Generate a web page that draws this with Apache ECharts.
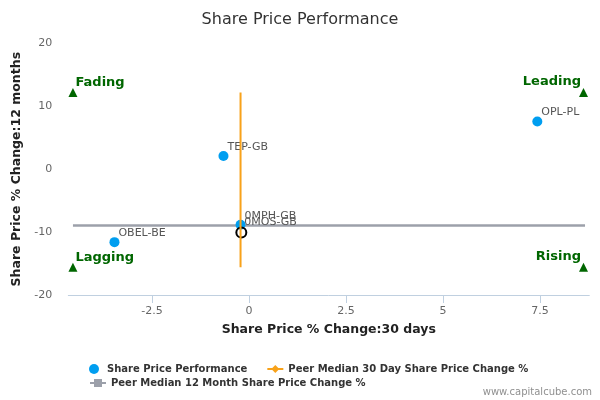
<!DOCTYPE html>
<html>
<head>
<meta charset="utf-8">
<script src="https://cdn.jsdelivr.net/npm/echarts@6/dist/echarts.min.js"></script>
<style>html,body{margin:0;padding:0;background:#fff}#c{width:600px;height:400px}</style>
</head>
<body>
<div id="c"></div>
<script>
// Data
const companies = ['OPL-PL', 'TEP-GB', 'OBEL-BE', '0MPH-GB', '0MOS-GB'];
const change30d = [7.43, -0.66, -3.47, -0.22, -0.20];
const change12m = [7.57, 2.1, -11.6, -8.85, -10.05];
const focusCompany = '0MOS-GB';
const peerMedian30d = -0.22;
const peerMedian12m = -8.94;
const medianLineX = [-4.54, 8.66];
const medianLineY = [12.2, -15.6];
const quadrantNames = ['Fading', 'Leading', 'Lagging', 'Rising'];
const quadrantX = [-4.54, 8.62, -4.54, 8.62];
const quadrantY = [12.2, 12.2, -15.6, -15.6];
const xTicks = [-2.5, 0, 2.5, 5, 7.5];
const yTicks = [-20, -10, 0, 10, 20];

const FONT = 'DejaVu Sans';
const chart = echarts.init(document.getElementById('c'), null, {renderer: 'canvas'});

const pointData = companies.map((name, i) => {
  const item = {name: name, value: [change30d[i], change12m[i]]};
  if (name === focusCompany) {
    item.itemStyle = {color: 'rgba(255,255,255,0)', borderColor: '#000', borderWidth: 2, opacity: 1};
    item.z = 10;
  }
  return item;
});

const quadData = quadrantNames.map((n, i) => {
  const right = quadrantX[i] > 0;
  return {
    name: n,
    value: [quadrantX[i], quadrantY[i]],
    label: {position: right ? [2, -6] : [7, -5], align: right ? 'right' : 'left'}
  };
});

const option = {
  animation: false,
  textStyle: {fontFamily: FONT},
  title: {
    text: 'Share Price Performance',
    left: 'center', top: 7,
    textStyle: {fontFamily: FONT, fontSize: 16, fontWeight: 'normal', color: '#333'}
  },
  grid: {left: 68.3, right: 10.7, top: 43.3, bottom: 105},
  xAxis: {
    type: 'value', min: -4.66, max: 8.77,
    name: 'Share Price % Change:30 days', nameLocation: 'middle', nameGap: 28,
    nameTextStyle: {fontFamily: FONT, fontSize: 12.5, fontWeight: 'bold', color: '#222'},
    axisLine: {show: true, onZero: false, lineStyle: {color: '#C0D0E0', width: 1}},
    axisTick: {show: true, length: 8, lineStyle: {color: '#C0D0E0'}, customValues: xTicks},
    axisLabel: {customValues: xTicks, color: '#666', fontSize: 11, fontFamily: FONT, margin: 11},
    splitLine: {show: false}
  },
  yAxis: {
    type: 'value', min: -20, max: 20, interval: 10,
    name: 'Share Price % Change:12 months', nameLocation: 'middle', nameGap: 36,
    nameTextStyle: {fontFamily: FONT, fontSize: 12.5, fontWeight: 'bold', color: '#222'},
    axisLine: {show: false}, axisTick: {show: false},
    axisLabel: {color: '#666', fontSize: 11, fontFamily: FONT, margin: 16},
    splitLine: {show: false}
  },
  legend: [
    {
      left: 84, top: 359, itemWidth: 16, itemHeight: 10, itemGap: 19,
      data: ['Share Price Performance', 'Peer Median 30 Day Share Price Change %'],
      textStyle: {fontFamily: FONT, fontSize: 10, fontWeight: 'bold', color: '#333'}
    },
    {
      left: 84, top: 373, itemWidth: 16, itemHeight: 10,
      data: ['Peer Median 12 Month Share Price Change %'],
      textStyle: {fontFamily: FONT, fontSize: 10, fontWeight: 'bold', color: '#333'}
    }
  ],
  graphic: [{
    type: 'text', right: 8, top: 387,
    style: {text: 'www.capitalcube.com', fill: '#909090', font: '10px "DejaVu Sans"'}
  }],
  series: [
    {
      name: 'Peer Median 12 Month Share Price Change %', type: 'line',
      symbol: 'rect', symbolSize: 10, color: '#9ca0aa',
      lineStyle: {width: 2.5, color: '#9ca0aa'},
      itemStyle: {opacity: 1},
      data: medianLineX.map(x => ({value: [x, peerMedian12m], symbol: 'none'})),
      z: 2
    },
    {
      name: 'Share Price Performance', type: 'scatter',
      symbol: 'circle', symbolSize: 10, color: '#009ef0',
      itemStyle: {opacity: 1},
      label: {
        show: true, formatter: '{b}', position: [9, -4], verticalAlign: 'middle',
        color: '#555', fontSize: 11, fontFamily: FONT
      },
      data: pointData,
      z: 3
    },
    {
      name: 'Peer Median 30 Day Share Price Change %', type: 'line',
      symbol: 'diamond', symbolSize: 10, color: '#f8a21a',
      lineStyle: {width: 2, color: '#f8a21a'},
      itemStyle: {opacity: 1},
      data: medianLineY.map(y => ({value: [peerMedian30d, y], symbol: 'none'})),
      z: 4
    },
    {
      name: 'Quadrants', type: 'scatter', symbol: 'triangle', symbolSize: 9,
      color: '#006600',
      itemStyle: {opacity: 1},
      label: {
        show: true, formatter: '{b}', verticalAlign: 'middle',
        color: '#006600', fontSize: 13, fontWeight: 'bold', fontFamily: FONT
      },
      data: quadData,
      z: 5
    }
  ]
};
chart.setOption(option);
</script>
</body>
</html>
